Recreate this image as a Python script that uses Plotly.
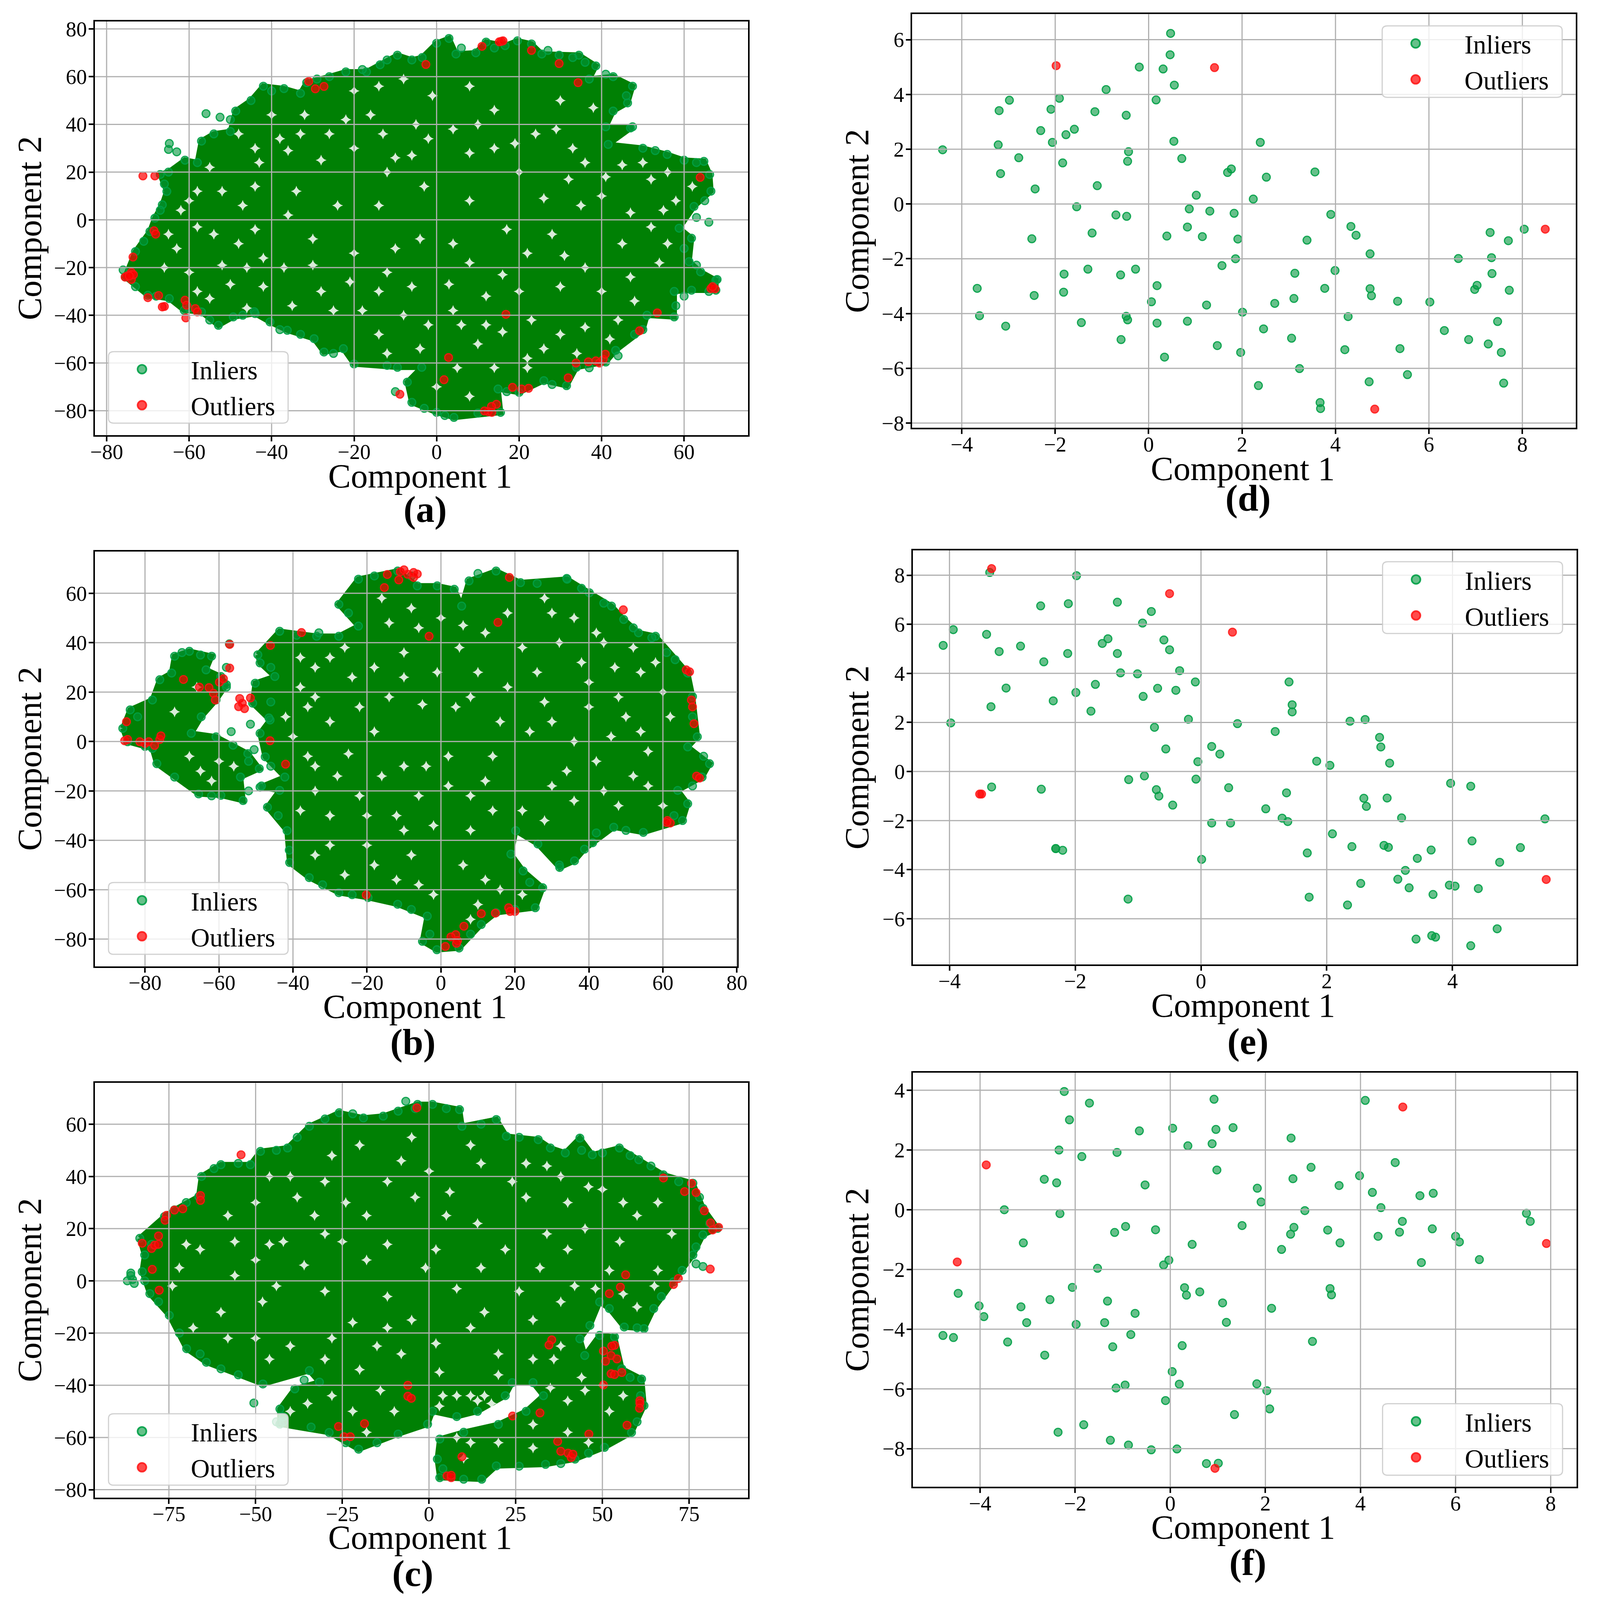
import plotly.graph_objects as go

FONT = "Liberation Serif"
GRID = "#b0b0b0"
DENSE_GREEN = "rgb(0,128,4)"

# outlines of the solid t-SNE clouds as (x, y)
A_OUTLINE = [(-65,20),(-61,25),(-58,24),(-57,33),(-54,36),(-50,37),(-48.7,45.6),(-45,50),(-42,56),(-37,55),(-33,53),(-31.5,57.5),(-26,60),(-22,62),(-17,62),(-13.7,65),(-9.5,69),(-6,67),(-3.5,68),(0,74),(3,76),(4.7,69.5),(9.5,70),(12,74.5),(16.6,73),(19.6,75),(23,73.7),(25.5,69.5),(29.7,69),(34.5,69),(38.6,64.5),(37,59),(42.8,60),(47.5,56),(46.3,49),(42.8,45.6),(41,39),(47.5,39),(41.6,31.6),(50,30),(55.9,27.4),(60,25),(64.8,24.5),(66.2,19),(66.5,12),(62.4,5.6),(58.8,-3.5),(61.8,-7.7),(61.2,-17.5),(64,-21.8),(67.7,-25.3),(67.7,-29.5),(61.8,-29.5),(57.6,-30),(57.6,-40.7),(51,-40),(50,-46),(43.4,-54.7),(41,-59.6),(33.9,-61.8),(31.5,-69.5),(26,-67.4),(20,-72.3),(14.9,-70.9),(15.5,-80.7),(4.2,-82.8),(0,-80.7),(-6,-76.5),(-7.1,-68),(-3.6,-61.8),(-9.5,-61.8),(-20,-60.4),(-22.6,-54),(-27.3,-55.4),(-29.7,-49.8),(-36.2,-46.3),(-40.4,-42.8),(-44,-39.3),(-49.3,-40.7),(-52.9,-44.2),(-57,-38.6),(-61.2,-37.9),(-64.8,-33),(-70,-31.6),(-75.5,-23.9),(-73,-13.3),(-69.5,-4.9),(-68.3,.7),(-66.5,6.3),(-65.4,11.9),(-67,19)]
A_EXTRA = [(-64.8,32),(-65,29.5),(-63,28.5),(-55.9,44.5),(-52.5,43),(-44.2,-38.5),(-10,-72),(66,-1),(68,-25),(47,38.5),(-50,42),(-40,54),(-29,59),(-18,63),(-12,67),(6,72),(14,72),(27,71),(33,68),(36,66),(41,61),(46,52),(53,29),(63,24),(65,8),(63,1),(60,-12),(63,-19),(66,-30),(60,-32),(58,-36),(48,-48),(44,-57),(37,-62),(28,-69),(17,-72),(10,-81),(2,-82),(-3,-79),(-12,-61),(-25,-56),(-33,-48),(-38,-46),(-47,-40),(-55,-42),(-60,-37),(-68,-32),(-73,-28),(-76,-21),(-71,-9),(-67,4),(-66,15)]
A_GAPS = [(-8,59),(-14,56),(-20,54),(-1,52),(-33,36),(-38,34),(-28,25),(-43,24),(-36,29),(-55,22),(-52,12),(-47,6),(-58,-3),(-48,-10),(-42,-16),(-37,-20),(-50,-27),(-55,-33),(-46,-37),(-30,-19),(-21,-26),(-25,-38),(-14,-30),(-4,-8),(4,-10),(-10,-12),(3,-27),(-2,-44),(10,-52),(16,-47),(26,-54),(16,-23),(22,-14),(31,-15),(36,-20),(47,-24),(45,-10),(52,-3),(40,10),(32,17),(26,9),(14,30),(4,38),(-5,40),(-13,36),(-20,30),(-6,27),(14,46),(24,36),(33,30),(45,23),(52,17),(58,8),(30,50),(38,47),(-40,44),(-48,36),(-22,42),(8,56),(-14,-48),(-4,-54),(5,-62),(14,-62),(23,-42),(36,-45),(-60,-22),(-63,-12),(-52,-19),(-44,30),(-32,44),(-26,36),(-16,44),(-10,26),(-2,34),(10,40),(19,32),(29,38),(36,24),(41,18),(50,24),(56,20),(62,14),(55,4),(47,3),(35,6),(20,20),(8,28),(-12,20),(-24,6),(-34,12),(-44,14),(-58,12),(-62,4),(-54,-6),(-44,-4),(-36,2),(-30,-8),(-20,-14),(-12,-22),(-6,-28),(8,-18),(12,-32),(20,-30),(30,-28),(40,-30),(48,-34),(54,-18),(56,-10),(44,-42),(30,-48),(22,-58),(12,-44),(4,-38),(-8,-40),(-18,-38),(-28,-30),(-35,-36),(-42,-28),(-58,-30),(-66,-20),(-65,-6),(-60,8),(-46,-20),(28,-6),(17,-4),(8,8),(-3,14),(-14,6),(6,-44),(-12,-56),(0,-70),(8,-74),(22,-62),(34,-56),(42,-50)]
A_OUTLIERS = [(-71.2,18.4),(-68.3,18.4),(-68.5,-4.6),(-68.1,-6),(-73.6,-15.6),(-74,-22),(-75,-23.5),(-74,-25),(-74,-22.9),(-73.5,-23),(-75.5,-24),(-74.5,-23.5),(-70,-32.6),(-67.4,-31.7),(-66.5,-36.5),(-66,-36.3),(-61,-33.7),(-60.6,-35.8),(-58.5,-37.2),(-58,-38.6),(-60.8,-41.1),(-31,58),(-29.4,54.9),(-27.3,55.9),(-2.6,65.1),(11,72.7),(15.7,74.8),(15.2,74.6),(16.1,75),(23,71),(29.7,65.5),(34.3,57.5),(63.9,17.8),(66.5,-28.8),(67.5,-28.9),(66.9,-28),(53.5,-39),(49.2,-46.5),(16.8,-39.6),(2.9,-57.7),(1.8,-67),(-8.9,-73.1),(18.4,-70.2),(20.6,-70.9),(22.3,-70.6),(14.5,-77.3),(13.3,-78.2),(12.5,-80.4),(13.4,-80.7),(11.6,-80.1),(31.9,-66.2),(33.8,-60),(36.8,-59.5),(38.6,-59.1),(39.5,-60),(40.4,-58.5),(40.9,-56.3)]

B_LOBE = [(-86,5.3),(-84,12.8),(-78,16.8),(-76,25),(-72.8,27.7),(-72,34.5),(-68,36.5),(-62,34.5),(-63.5,29),(-59.5,26.3),(-58,23),(-60.8,16.8),(-64.8,10),(-67.5,3.3),(-60.8,1.9),(-56.2,-1.5),(-52.2,-4.9),(-49.1,-11),(-54.2,-14.4),(-53.5,-23.9),(-59.5,-21.8),(-65.5,-21.2),(-72,-14.4),(-76.8,-9),(-78,-2.8),(-84.7,-.1)]
B_BODY = [(-49.5,35.1),(-43.6,44.6),(-33.6,42.6),(-27.6,42.6),(-22.3,46.7),(-27.6,55.5),(-22.3,65.7),(-11.7,69),(-6.4,63),(-1,63),(3.6,61.6),(5.6,54.8),(7.6,65),(14.9,69),(21.5,64.3),(34.1,65.7),(40.1,60.2),(46.1,54.8),(49.4,49.4),(53.4,44),(58,42.6),(63.3,33.1),(66.7,27.7),(68,18.2),(69.3,1.9),(66.7,-2.2),(72.6,-9),(70.6,-14.4),(64,-19.8),(66.7,-25.2),(65.3,-32),(54.7,-36.8),(46.7,-34.7),(38.8,-43.6),(36.1,-48.3),(32.1,-51),(26.2,-41.5),(20.2,-36.1),(18.9,-45.6),(22.2,-52.4),(27.5,-59.2),(25.5,-67.3),(14.9,-69.3),(10.9,-74.1),(4.9,-83.6),(-1.1,-84.3),(-5,-80.9),(-3.7,-70.7),(-11.7,-65.9),(-19.7,-63.2),(-27.6,-61.2),(-35.6,-55.1),(-40.9,-49),(-41.6,-36.1),(-46.9,-26.6),(-43.6,-19.8),(-48.9,-18.5),(-42.2,-14.4),(-47.5,-6.2),(-48.9,3.3),(-46.2,8.7),(-50.9,15.5),(-50.2,23.6),(-44.9,26.3),(-48.9,31.8)]
B_EXTRA = [(-57.2,39.5),(-58,30),(-56.7,4),(-51.5,7),(-50.5,-3.3),(-46.5,9.5),(34,66),(32,-50),(-48.5,-18),(42,-37),(57,42),(-70,36),(-65,35),(-58,22),(-82,10),(-80,-2),(-52,-8),(-52,-20),(-62,-22),(-39,43),(-25,52),(-18,67),(-8,67),(10,68),(26,64),(38,62),(44,56),(52,46),(61,36),(68,10),(71,-6),(68,-18),(63,-30),(50,-36),(41,-41),(24,-57),(20,-68),(8,-78),(-3,-78),(-8,-68),(-24,-62),(-32,-58),(-41,-44),(-44,-30),(-46,-10),(-46,16),(-46,30),(-33,44)]
B_GAPS = [(-68,-6),(-65,-12),(-60,-8),(-38,22),(-42,10),(-34,30),(-36,-6),(-28,-14),(-18,30),(-14,48),(-6,46),(5,38),(-1,28),(-5,15),(18,22),(22,38),(18,52),(30,52),(40,14),(28,16),(36,0),(42,-8),(52,-14),(50,10),(60,20),(56,-4),(30,-18),(22,-28),(36,-24),(48,-26),(8,-22),(-10,-10),(-4,-10),(2,-6),(14,-6),(-25,-5),(-22,14),(-30,34),(-14,18),(8,18),(-20,-30),(-10,-36),(-2,-34),(8,-36),(-30,-42),(-18,-50),(-8,-46),(12,-56),(-2,-62),(10,-66),(-38,-28),(47,30),(38,32),(54,28),(12,-16),(-72,12),(-66,22),(-62,-16),(-56,-10),(-30,8),(-34,18),(-24,26),(-26,38),(-10,36),(0,50),(12,44),(26,28),(32,40),(42,44),(52,38),(58,32),(62,10),(46,2),(34,-12),(44,-20),(56,-18),(60,-26),(28,-32),(14,-28),(2,-18),(-6,-22),(-16,-14),(-22,-22),(-34,-20),(-30,-30),(-12,-30),(-20,-42),(-12,-56),(-26,-54),(-34,-46),(-6,-58),(6,-50),(16,-60),(22,-62),(8,-72),(-36,14),(-40,2),(-34,-10),(-18,4),(-10,26),(4,14),(10,28),(16,8),(24,4),(30,8),(48,18),(54,4),(40,24),(-38,34),(-16,58),(-8,54),(6,47),(28,58),(36,50),(44,40)]
B_OUTLIERS = [(-85.5,.3),(-84.7,.8),(-85,8),(-81.4,-.1),(-80,-.8),(-79,-.1),(-77.4,-1.6),(-76,.8),(-75.7,2.3),(-69.6,25.1),(-65.3,22),(-62.7,21.8),(-61.5,19.5),(-61,16.8),(-59.9,24),(-58.8,25.4),(-57.1,29.7),(-57.1,39.3),(-46.1,38.9),(-37.7,44.1),(-54.4,17.4),(-51.5,17.6),(-54.7,14.1),(-53.1,13.3),(-53.7,15.5),(-46.2,.3),(-42,-9.2),(-20.2,-62.1),(-3.2,42.6),(15.4,48.2),(18.5,66.4),(49.3,53.3),(-15.3,62.3),(-14.5,67.6),(-11.4,65.4),(-11,68.7),(-10,69.5),(-9,67.7),(-7.4,66.4),(-7.4,68.4),(-6.4,67.8),(66.3,29),(67.2,28.2),(67.7,16.8),(68,14),(68.4,7.2),(69.1,-14),(69.9,-14.8),(61.2,-32),(62,-33),(61,-32.8),(20,-68.8),(18.3,-67.3),(18.7,-68.8),(14.7,-69.5),(10.9,-69.7),(6.2,-74.8),(4,-78.2),(2.7,-79.1),(4.5,-80.6),(4.2,-81.7),(1.2,-83)]

C_OUTLINE = [(-83.4,16.3),(-76.3,24.6),(-73.4,27.2),(-66.4,32.3),(-65.6,40),(-60,44.5),(-51.5,44.5),(-48.6,49.6),(-40.8,50.9),(-34.5,59.2),(-25.9,64.4),(-18.9,62.4),(-13.2,63.1),(-8.9,65),(-3.3,67.6),(1,67.6),(8.8,65.6),(9.5,59.2),(19.4,61.8),(22.3,55.4),(31.5,54.1),(35,50.9),(39.3,49),(43.5,54.7),(47.1,48.3),(54.9,50.9),(60.5,46.4),(67.6,40.6),(76.1,37.4),(79,27.8),(83.2,20.1),(79,17.6),(76.1,9.9),(70.5,-.4),(64.8,-10.6),(62,-18.3),(56.3,-17.7),(52,-10.6),(49.2,-8.1),(46.4,-17.1),(43.5,-22.2),(44.9,-28.6),(49.2,-20.9),(53.5,-21.5),(55.6,-33.7),(61.3,-37.6),(62,-47.8),(58.4,-58.1),(50.6,-63.8),(42.1,-68.3),(33.6,-70.3),(19.4,-70.9),(15.2,-76),(3.1,-75.4),(2.4,-68.3),(3.1,-60.6),(10,-58),(20,-55),(28,-50),(33,-44),(30,-39),(24,-39),(22,-44),(14,-50),(8,-52),(1,-50),(-.4,-54.9),(-8.9,-58.7),(-20.3,-64.5),(-28.8,-58.1),(-43,-54.9),(-43,-49.1),(-38.7,-41.4),(-31.6,-38.8),(-34.5,-34.4),(-47.9,-39.5),(-60,-33.7),(-64.2,-31.2),(-69.9,-26),(-74.9,-13.2),(-80.5,-4.9),(-82.7,3.5),(-82,9.9)]
C_EXTRA = [(-86,3),(-87,0),(-85,-1),(-86,2),(-85.5,.5),(-6.7,68.8),(-50.5,-46.8),(-42,-54),(-44,-54),(-80,14),(-70,30),(-62,43),(-55,45),(-44,50),(-38,55),(-30,62),(-22,64),(-4,66),(5,66),(15,60),(26,55),(44,50),(50,49),(58,48),(64,44),(72,38),(78,32),(81,22),(77,13),(73,4),(67,-6),(60,-18),(58,-37),(61,-44),(60,-54),(46,-66),(38,-70),(26,-71),(10,-76),(4,-72),(-15,-62),(-24,-62),(-34,-56),(-42,-52),(-36,-38),(-55,-36),(-66,-28),(-72,-20),(-78,-8),(-82,0),(79,5.5),(77,6.5)]
C_GAPS = [(4,-44),(8,-44),(12,-44),(16,-44),(3,-48),(14,-46),(18,-47),(44,-37),(45,-42),(35,-41),(-58,25),(-50,30),(-40,40),(-33,25),(-42,15),(-50,8),(-56,15),(-66,12),(-72,5),(-60,-12),(-48,-8),(-40,-25),(-50,-22),(-30,-30),(-25,15),(-18,25),(-12,38),(-4,32),(0,42),(5,25),(2,12),(-1,5),(8,-3),(15,5),(22,12),(32,5),(40,12),(45,20),(55,15),(60,25),(42,-2),(30,-15),(20,-28),(12,-18),(-5,-15),(-15,-25),(3,-35),(-22,-50),(-35,-47),(-14,-42),(28,32),(40,30),(50,35),(15,45),(28,45),(-28,48),(-20,52),(-5,55),(65,-2),(60,-10),(56,-5),(48,-3),(38,-25),(30,-30),(50,-40),(40,-58),(30,-55),(12,-62),(8,-60),(-70,14),(-74,-2),(-68,-18),(-58,-22),(-46,-30),(-56,2),(-46,14),(-38,32),(-46,40),(-30,38),(-24,30),(-30,18),(-36,6),(-44,-2),(-30,-4),(-18,8),(-12,-6),(-22,-16),(-28,-22),(-12,14),(-8,46),(6,34),(14,22),(12,52),(24,38),(34,18),(38,40),(46,36),(56,30),(66,30),(70,18),(66,4),(52,4),(38,-8),(26,-4),(16,-12),(2,-24),(-12,-18),(-8,-28),(-20,-34),(-28,-44),(-18,-58),(-10,-50),(-40,-50),(20,-36),(36,-30),(40,-46),(52,-50),(46,-62),(30,-64),(20,-62),(10,-68),(56,-44),(34,44)]
C_OUTLIERS = [(-3.5,66.3),(-54.2,48.3),(-65.9,32.7),(-65.9,30.8),(-71,27.6),(-73.4,27.1),(-75.7,25.1),(-76.1,23.2),(-78,17.2),(-82.7,14.4),(-80,12.4),(-79.1,13.7),(-78,14),(-79.8,4.4),(-77.8,-3.6),(67.6,39.4),(75.7,37.3),(73.7,34.2),(77,33.8),(79.4,26.8),(81.2,22.2),(83.5,20.5),(81.8,19.5),(81.1,4.5),(71.9,.9),(70.5,-1.4),(56.7,2.3),(55.2,-2.4),(52,-4.9),(35.4,-22.6),(34.6,-24.6),(53.5,-24.7),(52.7,-25),(50.3,-26.9),(52.5,-28.6),(54.2,-29.9),(50.9,-30.8),(52.5,-35.6),(55.6,-35.1),(53.5,-35.9),(50.3,-39.9),(60.8,-45.9),(60.8,-46.9),(60.7,-48.8),(57.1,-55.3),(46.1,-58.7),(24.1,-51.8),(32,-50.6),(37.1,-61.5),(38,-65.3),(40.1,-66),(41,-67.7),(41.5,-66.4),(-6.1,-40),(-6.1,-44.2),(-5.1,-45),(-18.6,-54.7),(-26.1,-55.8),(-24.5,-59.7),(-22.7,-59.7),(9.5,-67.4),(5.2,-74.7),(6.4,-75.4),(6.4,-74.5)]

D_INLIERS = [(.47,6.23),(.46,5.45),(-.2,5),(.31,4.93),(.55,4.34),(-.91,4.18),(-1.91,3.86),(.16,3.8),(-2.98,3.79),(-3.2,3.41),(-2.09,3.46),(-1.15,3.37),(-.48,3.24),(-1.59,2.73),(-2.31,2.68),(-1.77,2.53),(.54,2.29),(2.39,2.25),(-2.06,2.25),(-3.22,2.16),(-4.41,1.98),(-.43,1.91),(-2.78,1.69),(.71,1.66),(-.45,1.56),(-1.84,1.5),(1.77,1.28),(1.69,1.15),(3.56,1.17),(-3.17,1.11),(2.52,.98),(-1.1,.67),(-2.43,.55),(1.02,.32),(2.24,.18),(-1.54,-.1),(.87,-.18),(1.31,-.26),(1.83,-.34),(-.7,-.4),(-.47,-.45),(3.9,-.38),(4.33,-.82),(.83,-.84),(8.04,-.92),(7.31,-1.04),(-1.21,-1.06),(4.44,-1.14),(.39,-1.17),(1.15,-1.19),(-2.5,-1.27),(1.91,-1.28),(3.39,-1.32),(7.7,-1.34),(4.74,-1.82),(7.34,-1.96),(6.63,-1.99),(1.86,-2),(1.57,-2.25),(-1.3,-2.38),(-.28,-2.38),(3.99,-2.43),(3.13,-2.53),(-1.81,-2.56),(-.6,-2.59),(7.35,-2.54),(.18,-2.98),(7.03,-2.97),(6.98,-3.12),(-3.67,-3.08),(3.77,-3.08),(4.74,-3.09),(7.72,-3.15),(-1.82,-3.22),(-2.45,-3.34),(4.77,-3.35),(3.11,-3.45),(5.33,-3.55),(.06,-3.57),(6.02,-3.58),(2.7,-3.63),(1.24,-3.69),(2.01,-3.95),(-3.62,-4.08),(-.48,-4.1),(4.27,-4.11),(-.45,-4.23),(.83,-4.28),(-1.44,-4.33),(.18,-4.35),(-3.06,-4.46),(7.47,-4.29),(2.46,-4.56),(6.33,-4.62),(3.06,-4.9),(-.59,-4.95),(6.85,-4.95),(7.27,-5.11),(1.47,-5.17),(4.2,-5.32),(5.38,-5.28),(1.97,-5.42),(7.55,-5.42),(.34,-5.59),(3.23,-6.01),(5.54,-6.23),(4.72,-6.49),(7.6,-6.54),(2.35,-6.63),(3.67,-7.25),(3.68,-7.47)]
D_OUTLIERS = [(-1.98,5.05),(1.41,4.98),(8.49,-.92),(4.84,-7.49)]

E_INLIERS = [(-3.36,8.11),(-1.98,7.98),(-2.55,6.75),(-2.11,6.84),(-1.33,6.9),(-.79,6.52),(-.93,6.05),(-3.94,5.78),(-3.41,5.59),(-4.1,5.14),(-2.87,5.11),(-3.21,4.89),(-1.48,5.41),(-1.57,5.22),(-.59,5.36),(-.5,4.96),(-2.12,4.81),(-1.33,4.81),(-2.5,4.47),(-.34,4.11),(-1.28,4.02),(-1.01,3.98),(-.09,3.65),(1.4,3.65),(-1.68,3.55),(-3.1,3.4),(-.69,3.39),(-.4,3.31),(-1.99,3.22),(-.92,3.06),(-2.35,2.88),(1.45,2.72),(-3.34,2.64),(-1.75,2.46),(1.45,2.43),(-.2,2.13),(2.37,2.05),(2.61,2.12),(-3.98,1.98),(.58,1.95),(-.74,1.8),(1.18,1.63),(2.84,1.39),(.17,1.02),(2.86,1),(-.56,.92),(.3,.71),(-.05,.4),(1.84,.42),(2.05,.25),(3,.34),(-.9,-.18),(-1.15,-.33),(-.08,-.31),(-3.33,-.63),(-2.54,-.72),(.44,-.66),(-.71,-.74),(3.97,-.48),(4.29,-.6),(1.36,-.87),(-.67,-1),(2.59,-1.09),(2.96,-1.08),(-.45,-1.37),(2.63,-1.42),(1.03,-1.52),(1.29,-1.9),(3.19,-1.89),(1.38,-2.04),(5.47,-1.93),(.17,-2.1),(.47,-2.1),(2.09,-2.54),(4.31,-2.83),(2.91,-3.01),(2.98,-3.09),(2.4,-3.06),(5.08,-3.1),(-2.31,-3.14),(-2.31,-3.14),(-2.2,-3.21),(3.66,-3.2),(1.69,-3.32),(.01,-3.58),(3.44,-3.54),(4.75,-3.7),(3.25,-4.03),(3.13,-4.39),(2.54,-4.56),(3.95,-4.63),(4.04,-4.67),(3.31,-4.74),(4.41,-4.77),(3.69,-5.01),(1.72,-5.12),(-1.16,-5.2),(2.33,-5.44),(4.71,-6.41),(3.42,-6.83),(3.67,-6.69),(3.73,-6.75),(4.29,-7.1)]
E_OUTLIERS = [(-3.33,8.27),(-.5,7.25),(.5,5.68),(-3.52,-.92),(-3.49,-.92),(5.49,-4.4)]

F_INLIERS = [(-2.23,3.96),(-1.7,3.57),(.92,3.7),(4.1,3.66),(-2.12,3.01),(1.32,2.75),(.96,2.69),(.05,2.73),(-.65,2.64),(2.54,2.4),(.88,2.21),(.37,2.14),(-2.34,2),(-1.12,1.92),(-1.86,1.78),(4.73,1.58),(2.96,1.42),(.98,1.33),(3.98,1.14),(-2.65,1.02),(2.58,1.04),(-2.39,.9),(-.53,.83),(3.55,.81),(1.83,.72),(4.25,.58),(5.25,.47),(5.53,.55),(1.91,.26),(4.43,.07),(-3.49,0),(2.83,-.03),(-2.32,-.13),(7.49,-.12),(4.88,-.39),(7.57,-.39),(1.51,-.53),(-.94,-.56),(2.6,-.59),(5.51,-.64),(-.31,-.67),(3.31,-.68),(-1.17,-.76),(4.82,-.75),(2.53,-.82),(4.37,-.89),(6,-.89),(6.08,-1.08),(-3.09,-1.11),(3.57,-1.11),(.46,-1.16),(2.34,-1.33),(6.5,-1.67),(-.03,-1.69),(5.28,-1.77),(-.14,-1.85),(-1.53,-1.96),(-2.06,-2.6),(.3,-2.61),(3.36,-2.64),(.62,-2.75),(-4.46,-2.8),(.34,-2.86),(3.39,-2.85),(-2.53,-3.01),(-1.32,-3.06),(1.1,-3.12),(-4.02,-3.22),(-3.14,-3.25),(2.13,-3.3),(-.74,-3.47),(-3.92,-3.58),(-3.02,-3.78),(-1.38,-3.78),(1.18,-3.77),(-1.98,-3.84),(-.83,-4.18),(-4.78,-4.21),(-4.56,-4.28),(2.99,-4.41),(-3.42,-4.43),(-1.21,-4.59),(.25,-4.55),(-2.64,-4.87),(.04,-5.42),(-.95,-5.87),(.19,-5.84),(1.82,-5.83),(-1.14,-5.97),(2.03,-6.06),(-.1,-6.39),(2.09,-6.67),(1.35,-6.86),(-1.82,-7.2),(-2.36,-7.45),(-1.26,-7.72),(-.88,-7.88),(-.4,-8.04),(.14,-8.01),(.76,-8.5),(1.01,-8.49)]
F_OUTLIERS = [(4.89,3.44),(-3.87,1.5),(-4.48,-1.75),(7.91,-1.13),(.94,-8.66)]

PANELS = [
    dict(label="(a)", box=(235, 1933, 53, 1297), xr=[-82.8, 75.5], yr=[-90.2, 83.1],
         xt=[-80, -60, -40, -20, 0, 20, 40, 60], yt=[-80, -60, -40, -20, 0, 20, 40, 60, 80],
         outline=[A_OUTLINE], extra=A_EXTRA, gaps=A_GAPS, out=A_OUTLIERS,
         frame=(270, 737, 1046, 1261), lab=(1093, 1521), xtitle=(1080, 1420), ytitle=64),
    dict(label="(b)", box=(235, 1905, 1648, 2895), xr=[-93.5, 80.1], yr=[-91, 76.8],
         xt=[-80, -60, -40, -20, 0, 20, 40, 60, 80], yt=[-80, -60, -40, -20, 0, 20, 40, 60],
         outline=[B_LOBE, B_BODY], extra=B_EXTRA, gaps=B_GAPS, out=B_OUTLIERS,
         frame=(270, 737, 2643, 2859), lab=(1061, 3123), xtitle=(1067, 3016), ytitle=64),
    dict(label="(c)", box=(235, 1933, 3246, 4493), xr=[-96.3, 92], yr=[-83, 75.8],
         xt=[-75, -50, -25, 0, 25, 50, 75], yt=[-80, -60, -40, -20, 0, 20, 40, 60],
         outline=[C_OUTLINE], extra=C_EXTRA, gaps=C_GAPS, out=C_OUTLIERS,
         frame=(270, 737, 4241, 4456), lab=(1061, 4721), xtitle=(1080, 4613), ytitle=64),
    dict(label="(d)", box=(2360, 4085, 31, 1275), xr=[-5.06, 9.14], yr=[-8.17, 6.93],
         xt=[-4, -2, 0, 2, 4, 6, 8], yt=[-8, -6, -4, -2, 0, 2, 4, 6],
         inl=D_INLIERS, out=D_OUTLIERS,
         frame=(3582, 4050, 66, 281), lab=(3233, 1486), xtitle=(3219, 1398), ytitle=2216),
    dict(label="(e)", box=(2362, 4087, 1644, 2890), xr=[-4.58, 5.97], yr=[-7.87, 9.01],
         xt=[-4, -2, 0, 2, 4], yt=[-6, -4, -2, 0, 2, 4, 6, 8],
         inl=E_INLIERS, out=E_OUTLIERS,
         frame=(3583, 4051, 1678, 1894), lab=(3233, 3121), xtitle=(3220, 3012), ytitle=2216),
    dict(label="(f)", box=(2362, 4087, 3215, 4461), xr=[-5.41, 8.54], yr=[-9.28, 4.59],
         xt=[-4, -2, 0, 2, 4, 6, 8], yt=[-8, -6, -4, -2, 0, 2, 4],
         inl=F_INLIERS, out=F_OUTLIERS,
         frame=(3583, 4051, 4211, 4426), lab=(3233, 4689), xtitle=(3220, 4582), ytitle=2216),
]

W, H = 4122, 4779


def xs(points):
    return [p[0] for p in points]


def ys(points):
    return [p[1] for p in points]


def px(v):
    return v / W


def py(v):
    return 1 - v / H


def frame_path(x0, x1, y0, y1, r=14):
    # rounded legend box, in paper fractions
    return (
        f"M {px(x0 + r)} {py(y0)} L {px(x1 - r)} {py(y0)} Q {px(x1)} {py(y0)} {px(x1)} {py(y0 + r)} "
        f"L {px(x1)} {py(y1 - r)} Q {px(x1)} {py(y1)} {px(x1 - r)} {py(y1)} "
        f"L {px(x0 + r)} {py(y1)} Q {px(x0)} {py(y1)} {px(x0)} {py(y1 - r)} "
        f"L {px(x0)} {py(y0 + r)} Q {px(x0)} {py(y0)} {px(x0 + r)} {py(y0)} Z"
    )


def text_note(text, x, y, size, angle=0, bold=False):
    font = dict(family=FONT, size=size, color="black")
    if bold:
        font["weight"] = "bold"
    return dict(text=text, xref="paper", yref="paper", x=px(x), y=py(y), xanchor="center",
                yanchor="middle", showarrow=False, textangle=angle, font=font)


fig = go.Figure()
layout = {}
shapes = []
frames = []
annotations = []

for i, p in enumerate(PANELS, start=1):
    sx = "" if i == 1 else str(i)
    xa, ya = "x" + sx, "y" + sx
    leg = "legend" + sx
    x0, x1, y0, y1 = p["box"]

    if "outline" in p:
        # the clouds are too dense to read point by point, so the solid part is its outline
        ox, oy = [], []
        for part in p["outline"]:
            ox += xs(part) + [part[0][0], None]
            oy += ys(part) + [part[0][1], None]
        fig.add_trace(go.Scatter(x=ox, y=oy, mode="lines", fill="toself", fillcolor=DENSE_GREEN,
                                 line=dict(color=DENSE_GREEN, width=14), showlegend=False,
                                 hoverinfo="skip", xaxis=xa, yaxis=ya))
        # holes between the points of the cloud
        fig.add_trace(go.Scatter(x=xs(p["gaps"]), y=ys(p["gaps"]), mode="markers",
                                 marker=dict(color="white", size=20, symbol="star-diamond", opacity=0.85),
                                 showlegend=False, hoverinfo="skip", xaxis=xa, yaxis=ya))
        inl = [q for part in p["outline"] for q in part] + p["extra"]
    else:
        inl = p["inl"]

    fig.add_trace(go.Scatter(x=xs(inl), y=ys(inl), mode="markers", name="Inliers", legend=leg,
                             legendgroup="in",
                             marker=dict(color="rgba(0,150,60,0.6)", size=20,
                                         line=dict(color="rgba(0,160,70,0.9)", width=3)),
                             xaxis=xa, yaxis=ya))
    fig.add_trace(go.Scatter(x=xs(p["out"]), y=ys(p["out"]), mode="markers", name="Outliers", legend=leg,
                             legendgroup="out",
                             marker=dict(color="rgba(255,0,0,0.7)", size=20,
                                         line=dict(color="rgba(255,20,20,0.85)", width=3)),
                             xaxis=xa, yaxis=ya))

    axis_style = dict(
        showgrid=False, zeroline=False, showline=True, mirror=True, linecolor="black", linewidth=4,
        ticks="outside", ticklen=12, tickwidth=4, tickcolor="black",
        tickfont=dict(family=FONT, size=54, color="black"),
    )
    layout["xaxis" + sx] = dict(domain=[px(x0), px(x1)], range=p["xr"], tickvals=p["xt"], anchor=ya,
                                ticklabelstandoff=-20, **axis_style)
    layout["yaxis" + sx] = dict(domain=[py(y1), py(y0)], range=p["yr"], tickvals=p["yt"], anchor=xa,
                                ticklabelstandoff=-6, **axis_style)

    # the grid runs over the points in the original
    for v in p["xt"]:
        shapes.append(dict(type="line", xref=xa, yref=ya + " domain", x0=v, x1=v, y0=0, y1=1,
                           line=dict(color=GRID, width=3), layer="above"))
    for v in p["yt"]:
        shapes.append(dict(type="line", xref=xa + " domain", yref=ya, x0=0, x1=1, y0=v, y1=v,
                           line=dict(color=GRID, width=3), layer="above"))

    fx0, fx1, fy0, fy1 = p["frame"]
    frames.append(dict(type="path", xref="paper", yref="paper", path=frame_path(fx0, fx1, fy0, fy1),
                       fillcolor="rgba(255,255,255,0.8)", line=dict(color="rgba(204,204,204,0.9)", width=3),
                       layer="above"))
    layout[leg] = dict(
        x=px(fx0 - 40), y=py((fy0 + fy1) / 2), xanchor="left", yanchor="middle",
        bgcolor="rgba(0,0,0,0)", borderwidth=0, itemwidth=240, tracegroupgap=2,
        font=dict(family=FONT, size=67, color="black"),
    )
    annotations.append(text_note("Component 1", p["xtitle"][0], p["xtitle"][1], 87))
    annotations.append(text_note("Component 2", p["ytitle"], (y0 + y1) / 2, 87, angle=-90))
    annotations.append(text_note(p["label"], p["lab"][0], p["lab"][1], 95, bold=True))

fig.update_layout(
    autosize=True, margin=dict(l=0, r=0, t=0, b=0),
    paper_bgcolor="white", plot_bgcolor="white",
    shapes=shapes + frames, annotations=annotations, **layout,
)

# legend keys are capped at 16px by plotly, the original ones are larger
POST = """
var gd = document.getElementById('{plot_id}');
document.body.style.margin = '0';
document.documentElement.style.overflow = 'hidden';
function bumpKeys() {
  gd.querySelectorAll('path.scatterpts').forEach(function (p) {
    var t = p.getAttribute('transform') || '';
    if (t.indexOf('scale') < 0) { p.setAttribute('transform', t + ' scale(1.4)'); }
  });
}
gd.on('plotly_afterplot', bumpKeys);
Plotly.Plots.resize(gd).then(bumpKeys);
"""

fig.write_html("out.html", default_width="100vw", default_height="100vh",
               config={"displayModeBar": False}, post_script=POST)
